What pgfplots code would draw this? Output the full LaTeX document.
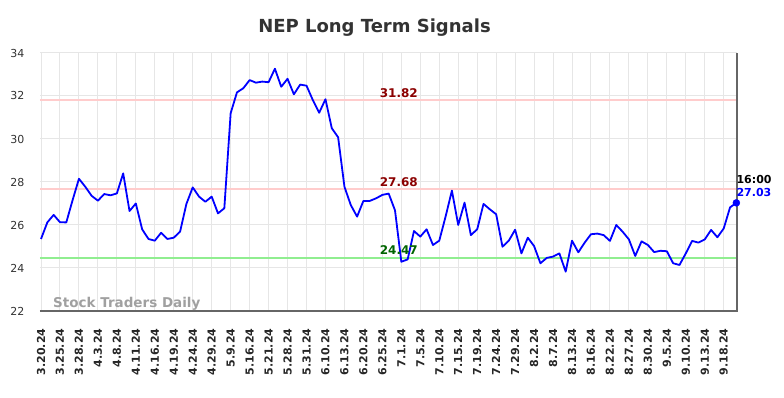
\documentclass[border=0pt]{standalone}
\usepackage{pgfplots}
\pgfplotsset{compat=1.18}
\usepackage{fontspec}
\setmainfont{DejaVu Sans}
\definecolor{gridgray}{HTML}{E6E6E6}
\definecolor{pinkline}{HTML}{FFCCCC}
\definecolor{greenline}{HTML}{90EE90}
\definecolor{darkred}{HTML}{8B0000}
\definecolor{darkgreen}{HTML}{006400}
\definecolor{titlegray}{HTML}{333333}
\definecolor{axisgray}{HTML}{666666}
\definecolor{wmgray}{HTML}{A0A0A0}
\begin{document}
\begin{tikzpicture}[x=1pt,y=1pt]
\begin{axis}[
  at={(0,0)}, anchor=south west,
  scale only axis, width=697pt, height=258pt,
  xmin=-0.16, xmax=110.1, ymin=22, ymax=34,
  ytick={22,24,...,34},
  xtick={0,3,...,108},
  xticklabels={3.20.24,3.25.24,3.28.24,4.3.24,4.8.24,4.11.24,4.16.24,4.19.24,4.24.24,4.29.24,5.9.24,5.16.24,5.21.24,5.28.24,5.31.24,6.10.24,6.13.24,6.20.24,6.25.24,7.1.24,7.5.24,7.10.24,7.15.24,7.19.24,7.24.24,7.29.24,8.2.24,8.7.24,8.13.24,8.16.24,8.22.24,8.27.24,8.30.24,9.5.24,9.10.24,9.13.24,9.18.24},
  x tick label style={yshift=-14pt, rotate=90, anchor=east, font=\bfseries\fontsize{11}{11}\selectfont, text=black!85},
  y tick label style={font=\fontsize{11}{11}\selectfont, text=titlegray, xshift=-12pt},
  /pgf/number format/assume math mode=true,
  grid=major, grid style={color=gridgray, line width=1pt},
  axis line style={draw=none},
  major tick length=0pt,
  clip=false,
]
\addplot[pinkline, line width=2pt, forget plot] coordinates {(-0.16,31.82) (110.1,31.82)};
\addplot[pinkline, line width=2pt, forget plot] coordinates {(-0.16,27.68) (110.1,27.68)};
\addplot[greenline, line width=2pt, forget plot] coordinates {(-0.16,24.47) (110.1,24.47)};
\draw[axisgray, line width=1.2pt] (rel axis cs:0,0) -- (rel axis cs:1,0) -- (rel axis cs:1,1);
\addplot[blue, line width=1.8pt, line join=round] coordinates {
(0,25.35) (1,26.12) (2,26.47) (3,26.13) (4,26.12) (5,27.16) (6,28.15) (7,27.78) (8,27.36) (9,27.13)
(10,27.44) (11,27.38) (12,27.47) (13,28.40) (14,26.65) (15,27.00) (16,25.80) (17,25.35) (18,25.27) (19,25.64)
(20,25.35) (21,25.41) (22,25.69) (23,26.98) (24,27.75) (25,27.32) (26,27.08) (27,27.32) (28,26.54) (29,26.78)
(30,31.20) (31,32.17) (32,32.36) (33,32.74) (34,32.62) (35,32.67) (36,32.64) (37,33.27) (38,32.43) (39,32.80)
(40,32.08) (41,32.53) (42,32.48) (43,31.81) (44,31.22) (45,31.85) (46,30.50) (47,30.08) (48,27.78) (49,26.93)
(50,26.39) (51,27.12) (52,27.12) (53,27.24) (54,27.40) (55,27.46) (56,26.68) (57,24.29) (58,24.40) (59,25.72)
(60,25.46) (61,25.80) (62,25.07) (63,25.27) (64,26.39) (65,27.60) (66,26.00) (67,27.04) (68,25.53) (69,25.80)
(70,26.98) (71,26.73) (72,26.50) (73,24.99) (74,25.27) (75,25.78) (76,24.68) (77,25.41) (78,25.02) (79,24.22)
(80,24.47) (81,24.53) (82,24.68) (83,23.83) (84,25.27) (85,24.73) (86,25.18) (87,25.57) (88,25.60) (89,25.53)
(90,25.26) (91,26.00) (92,25.69) (93,25.33) (94,24.56) (95,25.24) (96,25.07) (97,24.74) (98,24.80) (99,24.78)
(100,24.22) (101,24.14) (102,24.68) (103,25.26) (104,25.18) (105,25.33) (106,25.77) (107,25.43) (108,25.84) (109,26.82)
(110,27.03)};
\addplot[blue, only marks, mark=*, mark size=3.5pt] coordinates {(110,27.03)};
\node[anchor=base, yshift=2.8pt, inner sep=0pt, font=\bfseries\fontsize{12}{12}\selectfont, text=darkred] at (axis cs:56.6,31.82) {31.82};
\node[anchor=base, yshift=2.8pt, inner sep=0pt, font=\bfseries\fontsize{12}{12}\selectfont, text=darkred] at (axis cs:56.6,27.68) {27.68};
\node[anchor=base, yshift=3.6pt, inner sep=0pt, font=\bfseries\fontsize{12}{12}\selectfont, text=darkgreen] at (axis cs:56.6,24.47) {24.47};
\node[anchor=base west, inner sep=0pt, yshift=19.4pt, font=\bfseries\fontsize{11}{11}\selectfont, text=black] at (axis cs:110,27.03) {16:00};
\node[anchor=base west, inner sep=0pt, yshift=6pt, font=\bfseries\fontsize{11}{11}\selectfont, text=blue] at (axis cs:110,27.03) {27.03};
\end{axis}
\node[anchor=base west, inner sep=0pt, font=\bfseries\fontsize{13.5}{13.5}\selectfont, text=wmgray] at (13pt,3pt) {Stock Traders Daily};
\node[anchor=base, inner sep=0pt, font=\bfseries\fontsize{18}{18}\selectfont, text=titlegray] at (334.5pt,278.7pt) {NEP Long Term Signals};
\pgfresetboundingbox
\path (-40pt,-87pt) rectangle (744pt,311pt);
\end{tikzpicture}
\end{document}
